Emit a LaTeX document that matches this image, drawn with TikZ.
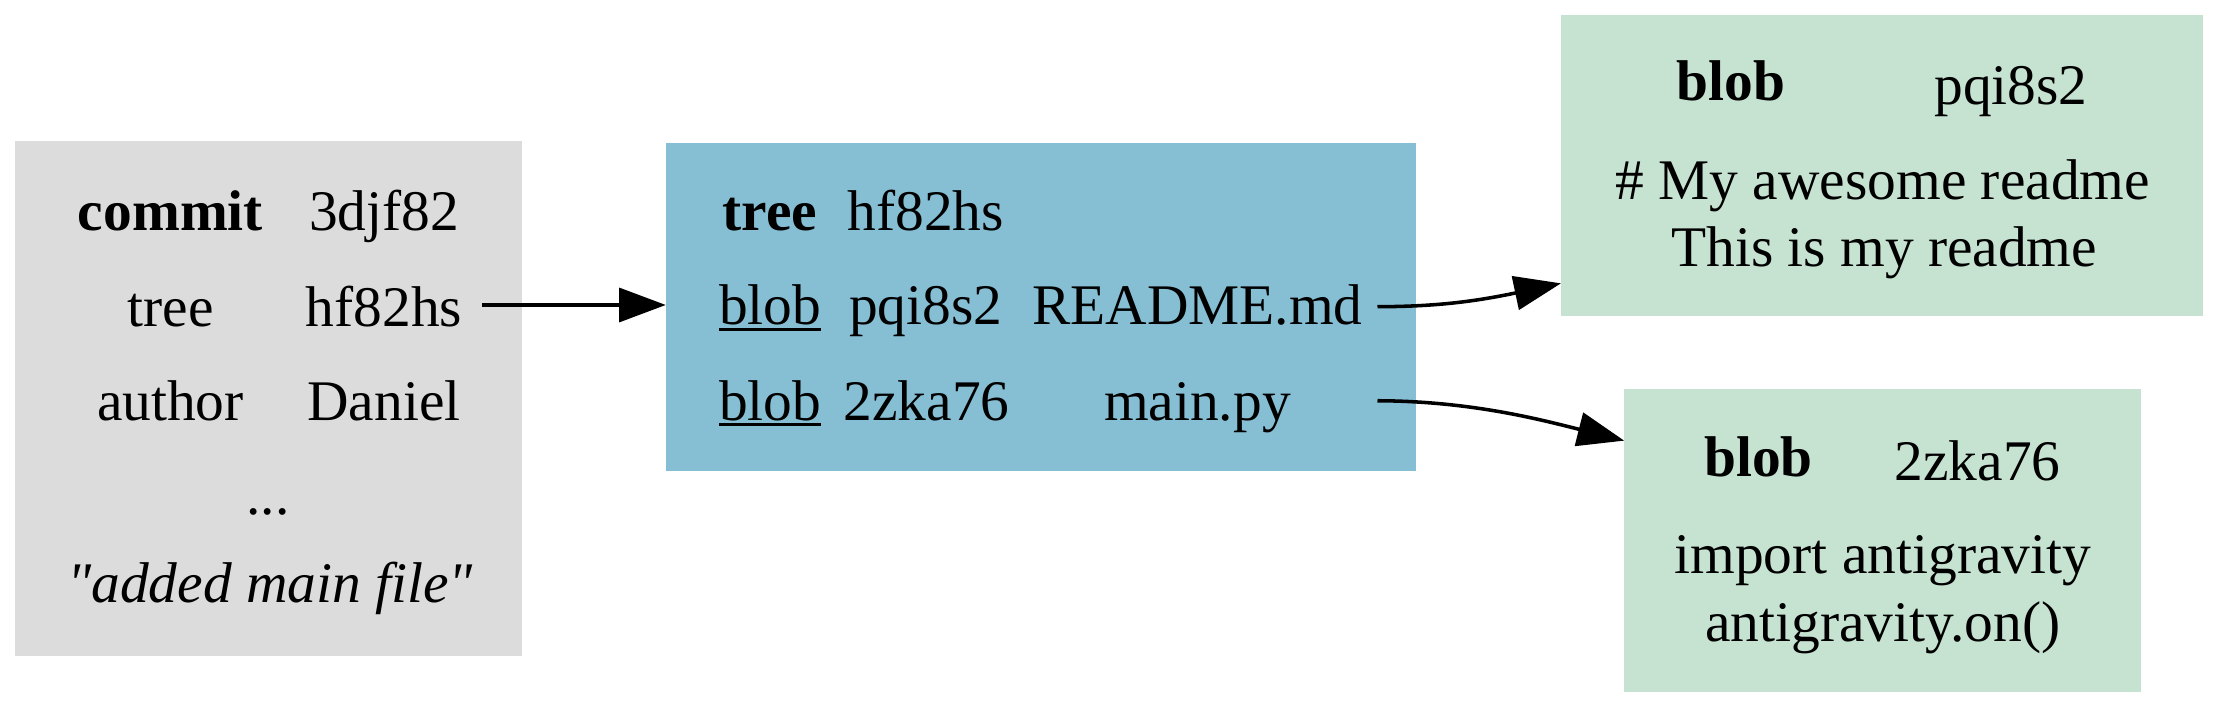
\documentclass[tikz,border=0pt]{standalone}
\usepackage{fontspec}
\setmainfont{Liberation Serif}[Ligatures=TeXOff]
\usetikzlibrary{arrows.meta,calc}
\definecolor{commitgray}{HTML}{DCDCDC}
\definecolor{treeblue}{HTML}{86BFD4}
\definecolor{blobgreen}{HTML}{C6E3D2}
\newcommand{\myul}[1]{\setbox0\hbox{#1}\rlap{\rule[-2.15pt]{\wd0}{1pt}}\box0}
\begin{document}
\begin{tikzpicture}[x=0.5pt,y=-0.5pt,
  box/.style={rectangle, draw=none, inner sep=0pt, outer sep=0pt},
  txt/.style={anchor=base, inner sep=0pt, outer sep=0pt, font=\fontsize{20.3}{24}\selectfont},
  bf/.style={txt, font=\fontsize{20.3}{24}\selectfont\bfseries},
  arr/.style={line width=1.25pt, -{Triangle[length=16.5pt,width=12pt]}}]
\useasboundingbox (0,0) rectangle (1568,499);
% boxes
\node[box, fill=commitgray, minimum width=179.35pt, minimum height=181.9pt] (commit) at (189.7,281.9) {};
\node[box, fill=treeblue, minimum width=265.15pt, minimum height=115.75pt] (tree) at (735.85,217.05) {};
\node[box, fill=blobgreen, minimum width=226.95pt, minimum height=106.4pt] (b1) at (1330.45,117) {};
\node[box, fill=blobgreen, minimum width=182.6pt, minimum height=106.9pt] (b2) at (1330.8,382.1) {};
% commit texts
\node[bf] (cK) at (120.5,162.6) {commit};
\node[txt] (cV) at (271.5,162.6) {3djf82};
\node[txt] (ctK) at (120.5,230.5) {tree};
\node[txt] (ctV) at (271.5,230.5) {hf82hs};
\node[txt] (caK) at (120.5,297) {author};
\node[txt] (caV) at (271.5,297) {Daniel};
\node[txt] (cdots) at (189.5,363.4) {...};
\node[txt] (cmsg) at (191,425.6) {\itshape "added main file"};
% tree texts
\node[bf] (tK) at (544.4,162.6) {tree};
\node[txt] (tV) at (654.5,162.6) {hf82hs};
\node[txt] (t1K) at (544.4,229.5) {\myul{blob}};
\node[txt] (t1V) at (654.5,229.5) {pqi8s2};
\node[txt] (t1N) at (846.5,229.5) {README.md};
\node[txt] (t2K) at (544.4,297) {\myul{blob}};
\node[txt] (t2V) at (655,297) {2zka76};
\node[txt] (t2N) at (846.5,297) {main.py};
% blob 1
\node[bf] (b1K) at (1223.8,70.7) {blob};
\node[txt] (b1V) at (1421.6,74) {pqi8s2};
\node[txt] (b1L1) at (1331,140.9) {\# My awesome readme};
\node[txt] (b1L2) at (1332,188.5) {This is my readme};
% blob 2
\node[bf] (b2K) at (1243.2,336.5) {blob};
\node[txt] (b2V) at (1398.1,339.4) {2zka76};
\node[txt] (b2L1) at (1331,405.3) {import antigravity};
\node[txt] (b2L2) at (1331,453.6) {antigravity.on()};
% connectors
\coordinate (s1) at (340.8,215.6);
\draw[arr] (s1) -- (s1 -| tree.west);
\coordinate (s2) at (973.8,216.8);
\draw[arr] (s2) .. controls (1015,216.8) and (1043.5,213) .. ($(b1.south west)+(0,-23.1)$);
\coordinate (s3) at (973.8,283.3);
\draw[arr] (s3) .. controls (1040,283.5) and (1090,296.9) .. ($(b2.north west)+(0,36.3)$);
\end{tikzpicture}
\end{document}
